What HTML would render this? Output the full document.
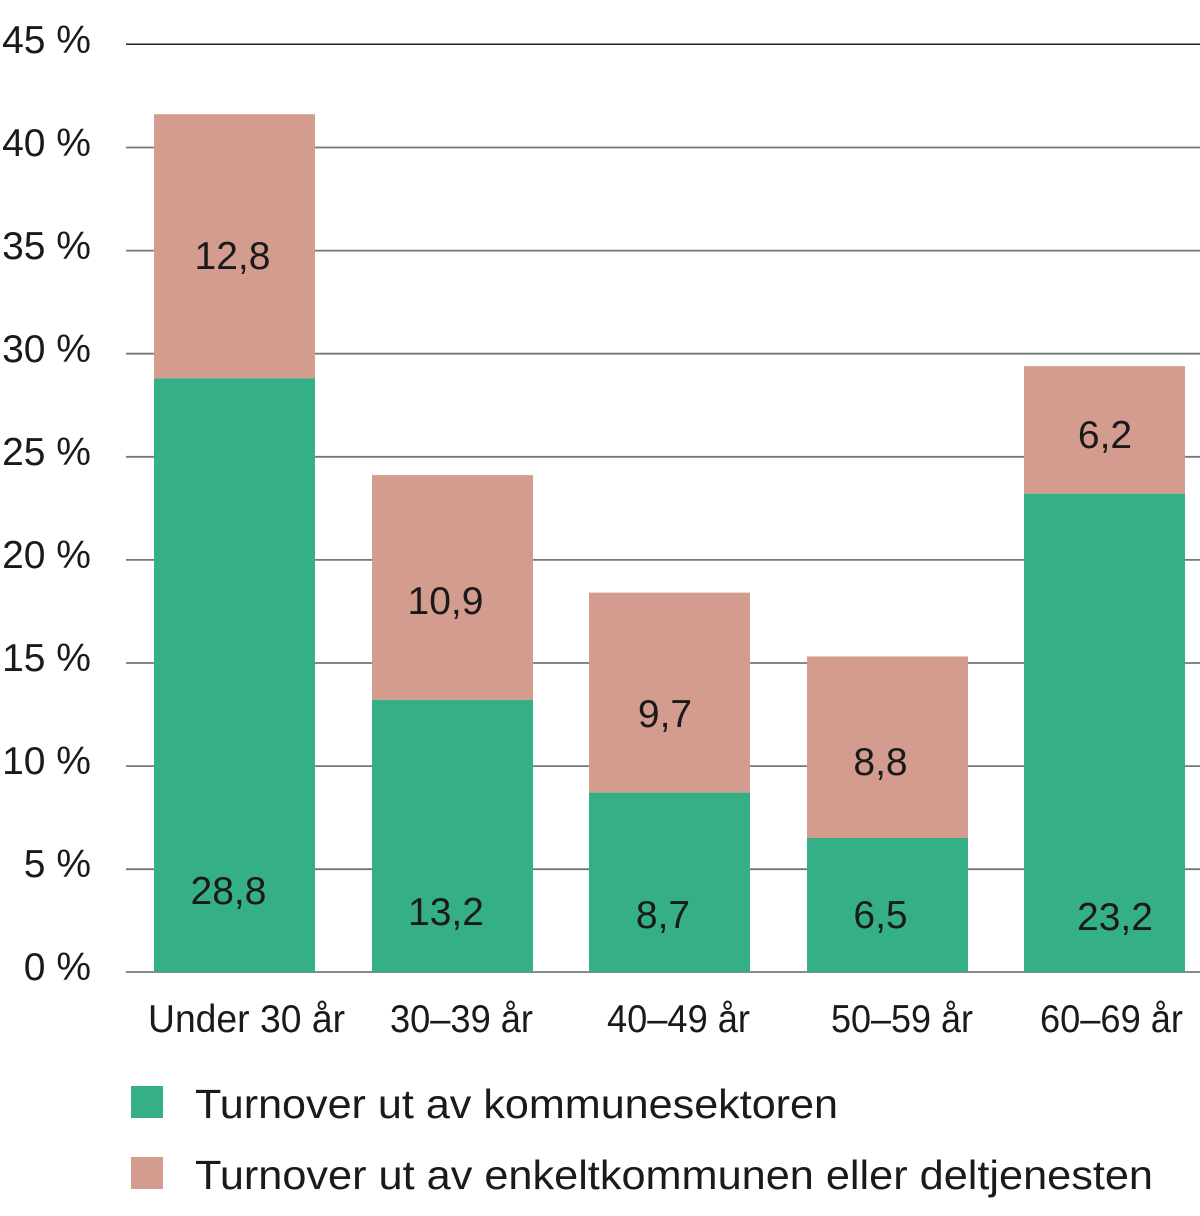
<!DOCTYPE html>
<html>
<head>
<meta charset="utf-8">
<style>
html,body{margin:0;padding:0;background:#fff;}
svg{display:block;}
text{font-family:"Liberation Sans",sans-serif;fill:#1a1a1a;}
</style>
</head>
<body>
<svg width="1200" height="1216" viewBox="0 0 1200 1216" xmlns="http://www.w3.org/2000/svg">
<!-- gridlines -->
<g stroke="#777" stroke-width="1.8">
<line x1="126" y1="147.5" x2="1200" y2="147.5"/>
<line x1="126" y1="250.6" x2="1200" y2="250.6"/>
<line x1="126" y1="353.7" x2="1200" y2="353.7"/>
<line x1="126" y1="456.8" x2="1200" y2="456.8"/>
<line x1="126" y1="559.9" x2="1200" y2="559.9"/>
<line x1="126" y1="663" x2="1200" y2="663"/>
<line x1="126" y1="766.1" x2="1200" y2="766.1"/>
<line x1="126" y1="869.2" x2="1200" y2="869.2"/>
<line x1="126" y1="972" x2="1200" y2="972"/>
</g>
<line x1="126" y1="44.3" x2="1200" y2="44.3" stroke="#222" stroke-width="1.5"/>

<!-- y labels -->
<g font-size="39" text-anchor="end">
<text x="91" y="53">45 %</text>
<text x="91" y="156">40 %</text>
<text x="91" y="259">35 %</text>
<text x="91" y="362">30 %</text>
<text x="91" y="465">25 %</text>
<text x="91" y="568">20 %</text>
<text x="91" y="671">15 %</text>
<text x="91" y="774">10 %</text>
<text x="91" y="877">5 %</text>
<text x="91" y="980">0 %</text>
</g>

<!-- bars -->
<g fill="#35b086">
<rect x="154" y="378.2" width="161" height="593.8"/>
<rect x="372" y="699.8" width="161" height="272.2"/>
<rect x="589" y="792.6" width="161" height="179.4"/>
<rect x="807" y="838" width="161" height="134"/>
<rect x="1024" y="493.6" width="161" height="478.4"/>
</g>
<g fill="#d39c8f">
<rect x="154" y="114.2" width="161" height="264"/>
<rect x="372" y="475.1" width="161" height="224.7"/>
<rect x="589" y="592.6" width="161" height="200"/>
<rect x="807" y="656.5" width="161" height="181.5"/>
<rect x="1024" y="366.1" width="161" height="127.5"/>
</g>

<!-- data labels -->
<g font-size="39" text-anchor="middle">
<text x="232.5" y="269">12,8</text>
<text x="228.5" y="904">28,8</text>
<text x="445.5" y="614">10,9</text>
<text x="446" y="925">13,2</text>
<text x="665" y="727">9,7</text>
<text x="663" y="928">8,7</text>
<text x="880.5" y="775">8,8</text>
<text x="880.5" y="928">6,5</text>
<text x="1105" y="448">6,2</text>
<text x="1115" y="930">23,2</text>
</g>

<!-- x labels -->
<g font-size="39">
<text x="148" y="1032" textLength="197" lengthAdjust="spacingAndGlyphs">Under 30 år</text>
<text x="390" y="1032" textLength="143" lengthAdjust="spacingAndGlyphs">30–39 år</text>
<text x="607" y="1032" textLength="143" lengthAdjust="spacingAndGlyphs">40–49 år</text>
<text x="831" y="1032" textLength="142" lengthAdjust="spacingAndGlyphs">50–59 år</text>
<text x="1040" y="1032" textLength="143" lengthAdjust="spacingAndGlyphs">60–69 år</text>
</g>

<!-- legend -->
<rect x="131" y="1086" width="32" height="32" fill="#35b086"/>
<rect x="131" y="1157" width="32" height="32" fill="#d39c8f"/>
<g font-size="41">
<text x="195" y="1118" textLength="643" lengthAdjust="spacingAndGlyphs">Turnover ut av kommunesektoren</text>
<text x="195" y="1189" textLength="958" lengthAdjust="spacingAndGlyphs">Turnover ut av enkeltkommunen eller deltjenesten</text>
</g>
</svg>
</body>
</html>
